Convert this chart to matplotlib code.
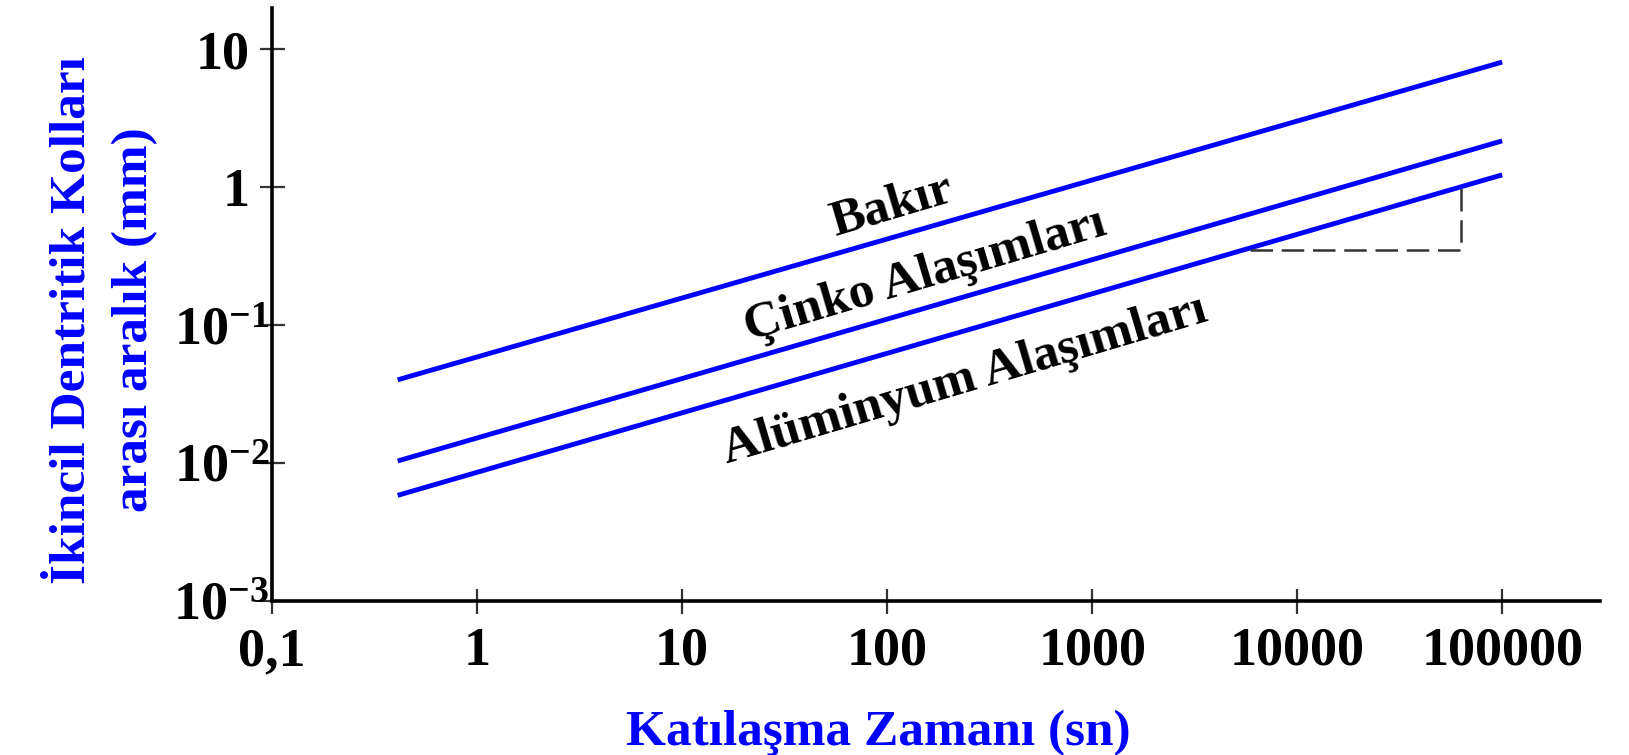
import matplotlib
matplotlib.use('Agg')
import matplotlib.pyplot as plt
import matplotlib.transforms as mtransforms

plt.rcParams['font.family'] = ['Liberation Serif', 'DejaVu Serif']
plt.rcParams['font.weight'] = 'bold'
plt.rcParams['mathtext.fontset'] = 'custom'
plt.rcParams['mathtext.rm'] = 'Liberation Serif:bold'
plt.rcParams['mathtext.it'] = 'Liberation Serif:bold'
plt.rcParams['mathtext.bf'] = 'Liberation Serif:bold'

# ---- data ----
time_s = [0.41, 100000]
bakir = [0.040, 8.1]
cinko = [0.0103, 2.17]
aluminyum = [0.0058, 1.23]
series_labels = ['Bakır', 'Çinko Alaşımları', 'Alüminyum Alaşımları']
label_x = [105, 154, 240]
label_y = [0.73, 0.228, 0.0395]
x_ticks = [0.1, 1, 10, 100, 1000, 10000, 100000]
x_tick_labels = ['0,1', '1', '10', '100', '1000', '10000', '100000']
y_ticks = [0.001, 0.01, 0.1, 1, 10]
y_tick_labels = [r'$10^{-3}$', r'$10^{-2}$', r'$10^{-1}$', '1', '10']
slope_x = [5900, 63000, 63000]
slope_y = [0.35, 0.35, 1.0]

BLUE = '#0000ff'

fig = plt.figure(figsize=(16.29, 7.55), dpi=100)
ax = fig.add_axes([0.1670, 0.2046, 0.8152, 0.7848])
ax.set_xscale('log')
ax.set_yscale('log')
ax.set_xlim(0.1, 3.0e5)
ax.set_ylim(1e-3, 20)

for ys in (bakir, cinko, aluminyum):
    ax.plot(time_s, ys, color=BLUE, lw=3.5, solid_capstyle='butt')

ax.plot(slope_x, slope_y, color='#333333', lw=1.8, linestyle=(0, (9, 3.5)))

for txt, lx, ly in zip(series_labels, label_x, label_y):
    ax.text(lx, ly, txt, ha='center', va='center', rotation=16.5,
            rotation_mode='anchor', fontsize=37, fontweight='bold', color='black')

for s in ('top', 'right'):
    ax.spines[s].set_visible(False)
for s in ('left', 'bottom'):
    ax.spines[s].set_linewidth(2.6)

ax.set_xticks(x_ticks)
ax.set_xticklabels(x_tick_labels)
ax.set_yticks(y_ticks)
ax.set_yticklabels(y_tick_labels)
ax.minorticks_off()
ax.tick_params(axis='both', direction='inout', length=18, width=1.6,
               color='#333333', labelsize=39, labelcolor='black')
ax.tick_params(axis='x', pad=10)
ax.tick_params(axis='y', pad=7)

# exponent labels stick out past the axis line a little, as in the reference
shift = mtransforms.ScaledTranslation(14 / 72, 0, fig.dpi_scale_trans)
for lab, txt in zip(ax.get_yticklabels(), y_tick_labels):
    if '^' in txt:
        lab.set_transform(lab.get_transform() + shift)

fig.text(0.539, 0.029, 'Katılaşma Zamanı (sn)', ha='center', va='center',
         fontsize=37, fontweight='bold', color=BLUE)
fig.text(0.0448, 0.5760, 'İkincil Dentritik Kolları', ha='center', va='center',
         rotation=90, fontsize=37, fontweight='bold', color=BLUE)
fig.text(0.0829, 0.5760, 'arası aralık (mm)', ha='center', va='center',
         rotation=90, fontsize=37, fontweight='bold', color=BLUE)

fig.savefig('out.png', dpi=100, facecolor='white')
